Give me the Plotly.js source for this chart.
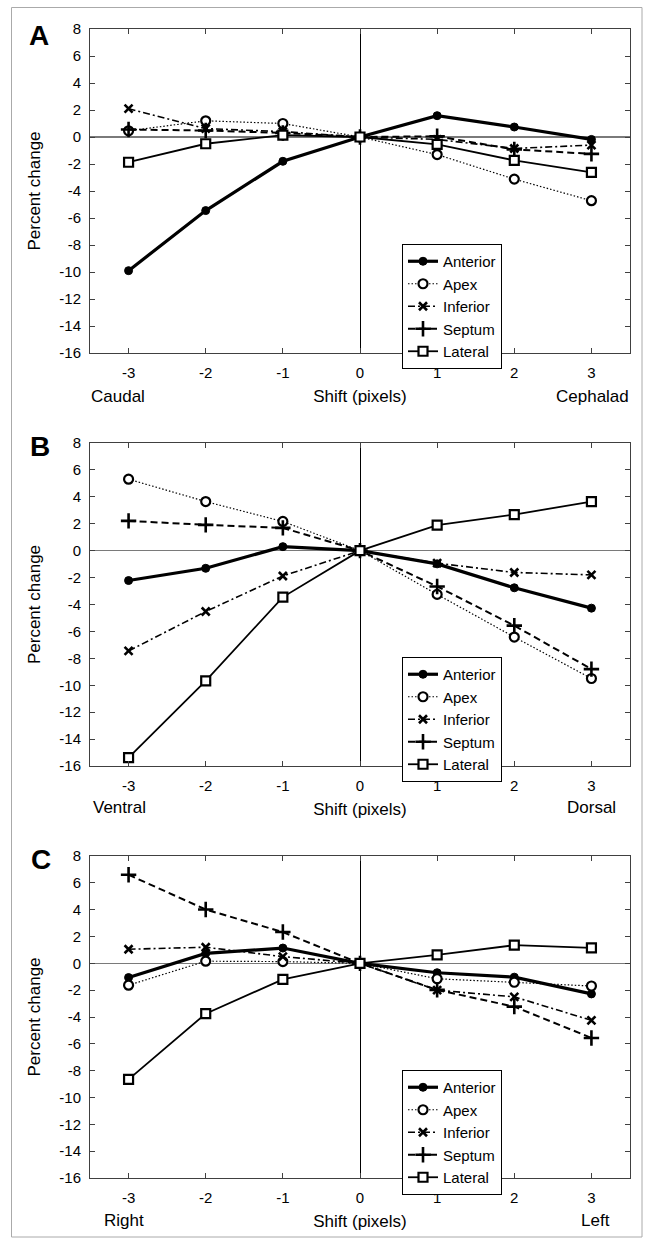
<!DOCTYPE html>
<html><head><meta charset="utf-8">
<script src="https://cdn.plot.ly/plotly-3.0.1.min.js"></script>
<style>html,body{margin:0;padding:0;background:#fff;} #chart{width:648px;height:1243px;}</style>
</head><body><div id="chart"></div>
<script>
// ---- data ----
const shifts = [-3, -2, -1, 0, 1, 2, 3];
const regionNames = ['Anterior', 'Apex', 'Inferior', 'Septum', 'Lateral'];

// Panel A: Caudal / Cephalad
const A_anterior = [-9.9, -5.45, -1.8, 0, 1.58, 0.74, -0.18];
const A_apex     = [0.46, 1.2, 1.0, 0, -1.3, -3.12, -4.72];
const A_inferior = [2.1, 0.62, 0.4, 0, -0.18, -0.85, -0.6];
const A_septum   = [0.55, 0.48, 0.3, 0, 0.05, -0.92, -1.25];
const A_lateral  = [-1.87, -0.5, 0.14, 0, -0.54, -1.73, -2.62];

// Panel B: Ventral / Dorsal
const B_anterior = [-2.22, -1.31, 0.3, 0, -0.98, -2.76, -4.27];
const B_apex     = [5.31, 3.65, 2.17, 0, -3.25, -6.42, -9.5];
const B_inferior = [-7.45, -4.52, -1.88, 0, -0.93, -1.62, -1.8];
const B_septum   = [2.21, 1.92, 1.69, 0, -2.66, -5.57, -8.8];
const B_lateral  = [-15.38, -9.68, -3.45, 0, 1.9, 2.68, 3.65];

// Panel C: Right / Left
const C_anterior = [-1.06, 0.74, 1.14, 0, -0.7, -1.03, -2.28];
const C_apex     = [-1.63, 0.16, 0.13, 0, -1.15, -1.41, -1.69];
const C_inferior = [1.05, 1.2, 0.5, 0, -2.0, -2.5, -4.25];
const C_septum   = [6.6, 4.01, 2.33, 0, -1.98, -3.23, -5.56];
const C_lateral  = [-8.65, -3.75, -1.2, 0, 0.63, 1.35, 1.15];

const panelLetters = ['A', 'B', 'C'];
const leftLabels = ['Caudal', 'Ventral', 'Right'];
const rightLabels = ['Cephalad', 'Dorsal', 'Left'];
const xTitle = 'Shift (pixels)';
const yTitle = 'Percent change';
const yTickVals = [-16, -14, -12, -10, -8, -6, -4, -2, 0, 2, 4, 6, 8];

const panelData = [
  [A_anterior, A_apex, A_inferior, A_septum, A_lateral],
  [B_anterior, B_apex, B_inferior, B_septum, B_lateral],
  [C_anterior, C_apex, C_inferior, C_septum, C_lateral]
];

// ---- styles ----
const FONT = 'Liberation Sans, Arial, sans-serif';
const W = 648, H = 1243;
const styles = [
  {line: {color: '#000', width: 3.2, dash: 'solid'},
   marker: {symbol: 'circle', size: 8, color: '#000', line: {color: '#000', width: 1}}},
  {line: {color: '#000', width: 1.2, dash: '1.5px,2px'},
   marker: {symbol: 'circle', size: 9, color: '#fff', line: {color: '#000', width: 2.2}}},
  {line: {color: '#000', width: 1.6, dash: '7px,3px,2px,3px'},
   marker: {symbol: 'x-thin-open', size: 8, color: '#000', line: {color: '#000', width: 2.6}}},
  {line: {color: '#000', width: 2, dash: '7px,4px'},
   marker: {symbol: 'cross-thin-open', size: 11, color: '#000', line: {color: '#000', width: 2.6}}},
  {line: {color: '#000', width: 1.8, dash: 'solid'},
   marker: {symbol: 'square', size: 9, color: '#fff', line: {color: '#000', width: 2.2}}}
];

// panel pixel geometry (top, bottom of frame)
const frameX = [90, 630];
const frames = [[29, 353], [443, 766], [856, 1178]];
const sideLabelY = [396, 807, 1220];
const letterPos = [[38.5, 35], [40, 446], [41, 859]];
const leftLabelX = [89, 91, 102];
const rightLabelX = [631, 618, 612];
const legendTop = [244, 657, 1070];

const px = v => v / W;
const py = v => 1 - v / H;

const traces = [];
const layout = {
  width: W, height: H,
  margin: {l: 0, r: 0, t: 0, b: 0},
  paper_bgcolor: '#fff', plot_bgcolor: '#fff',
  font: {family: FONT, size: 15, color: '#000'},
  annotations: [],
  shapes: [{type: 'rect', xref: 'paper', yref: 'paper',
    x0: px(11.5), x1: px(642), y0: py(1237), y1: py(7.5),
    line: {color: '#aaaaaa', width: 1}, fillcolor: 'rgba(0,0,0,0)', layer: 'below'}]
};

panelData.forEach((series, p) => {
  const sfx = p === 0 ? '' : String(p + 1);
  const legendKey = 'legend' + sfx;
  series.forEach((vals, i) => {
    traces.push({
      type: 'scatter', mode: 'lines+markers',
      x: shifts, y: vals, name: regionNames[i],
      xaxis: 'x' + sfx, yaxis: 'y' + sfx,
      legend: legendKey,
      line: styles[i].line, marker: styles[i].marker,
      cliponaxis: false
    });
  });
  const [top, bot] = frames[p];
  layout['xaxis' + sfx] = {
    domain: [px(frameX[0]), px(frameX[1])],
    anchor: 'y' + sfx,
    range: [-3.5, 3.5],
    tickmode: 'array', tickvals: shifts, ticktext: shifts.map(String),
    ticks: 'inside', ticklen: 5, tickwidth: 1, tickcolor: '#404040',
    showline: true, linecolor: '#404040', linewidth: 1, mirror: 'ticks',
    showgrid: false,
    zeroline: true, zerolinecolor: '#000', zerolinewidth: 1,
    tickfont: {family: FONT, size: 15, color: '#000'},
    ticklabelstandoff: 6,
    automargin: false,
    title: {text: xTitle, font: {family: FONT, size: 17, color: '#000'}, standoff: 10}
  };
  layout['yaxis' + sfx] = {
    domain: [py(bot), py(top)],
    anchor: 'x' + sfx,
    range: [-16, 8],
    tickmode: 'array', tickvals: yTickVals, ticktext: yTickVals.map(String),
    ticks: 'inside', ticklen: 5, tickwidth: 1, tickcolor: '#404040',
    showline: true, linecolor: '#404040', linewidth: 1, mirror: 'ticks',
    showgrid: false,
    zeroline: true, zerolinecolor: '#7a7a7a', zerolinewidth: 1.6,
    tickfont: {family: FONT, size: 15, color: '#000'},
    ticklabelstandoff: 5,
    automargin: false,
    title: {text: yTitle, font: {family: FONT, size: 17, color: '#000'}, standoff: 14}
  };
  layout[legendKey] = {
    x: px(402), y: py(legendTop[p]), xanchor: 'left', yanchor: 'top',
    xref: 'paper', yref: 'paper',
    bgcolor: '#fff', bordercolor: '#000', borderwidth: 1,
    font: {family: FONT, size: 15, color: '#000'},
    itemwidth: 30, tracegroupgap: 0, itemsizing: 'trace'
  };
  layout.annotations.push(
    {xref: 'paper', yref: 'paper', x: px(letterPos[p][0]), y: py(letterPos[p][1]),
     xanchor: 'center', yanchor: 'middle', showarrow: false,
     text: '<b>' + panelLetters[p] + '</b>', font: {family: FONT, size: 28, color: '#000'}},
    {xref: 'paper', yref: 'paper', x: px(leftLabelX[p]), y: py(sideLabelY[p]),
     xanchor: 'left', yanchor: 'middle', showarrow: false,
     text: leftLabels[p], font: {family: FONT, size: 17, color: '#000'}},
    {xref: 'paper', yref: 'paper', x: px(rightLabelX[p]), y: py(sideLabelY[p]),
     xanchor: 'right', yanchor: 'middle', showarrow: false,
     text: rightLabels[p], font: {family: FONT, size: 17, color: '#000'}}
  );
});

Plotly.newPlot('chart', traces, layout, {displayModeBar: false, staticPlot: true});
</script>
</body></html>
